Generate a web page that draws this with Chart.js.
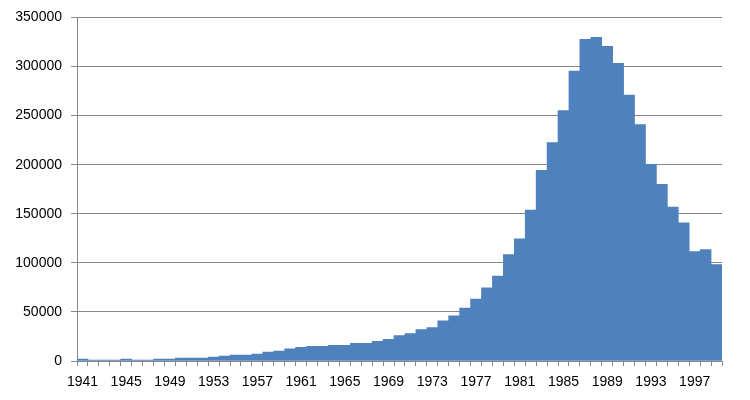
<!DOCTYPE html>
<html>
<head>
<meta charset="utf-8">
<script src="https://cdn.jsdelivr.net/npm/chart.js@4/dist/chart.umd.min.js"></script>
<style>
html,body{margin:0;padding:0;background:#fff;}
#wrap{width:750px;height:400px;}
</style>
</head>
<body>
<div id="wrap"><canvas id="c" width="750" height="400"></canvas></div>
<script>
const years = [];
for (let y = 1941; y <= 1999; y++) years.push(String(y));

const values = [
  2000, 1000, 1000, 1000, 2000, 1000, 1000, 2000, 2000, 3000,
  3000, 3000, 4000, 5000, 6000, 6000, 7000, 9000, 10000, 12500,
  14000, 15000, 15000, 16000, 16000, 18000, 18000, 20000, 22000, 26000,
  28000, 32000, 34000, 41000, 46000, 54000, 63000, 74500, 86600, 108500,
  124500, 153800, 194200, 222500, 255000, 295200, 327600, 329600, 320500, 303300,
  271000, 240700, 200300, 180000, 156800, 140700, 111400, 113400, 98300
];

const yTicks = [0, 50000, 100000, 150000, 200000, 250000, 300000, 350000];

const gridColor = '#868686';
const textColor = '#000000';
const font = {family: '"Liberation Sans", Arial, sans-serif', size: 14};

new Chart(document.getElementById('c'), {
  type: 'bar',
  data: {
    labels: years,
    datasets: [{
      data: values,
      backgroundColor: '#4F81BD',
      borderWidth: 0,
      barPercentage: 1.0,
      categoryPercentage: 1.0
    }]
  },
  options: {
    responsive: false,
    animation: false,
    devicePixelRatio: 1,
    layout: {padding: {top: 15, right: 28, bottom: 0, left: 0}},
    plugins: {legend: {display: false}, tooltip: {enabled: false}},
    scales: {
      x: {
        offset: true,
        grid: {offset: true, drawOnChartArea: false, drawTicks: true, tickLength: 5, color: gridColor, lineWidth: 1},
        border: {display: true, color: gridColor, width: 1},
        ticks: {
          autoSkip: false, maxRotation: 0, minRotation: 0, padding: 8,
          color: textColor, font: font,
          callback: function(v, i) { return (i % 4 === 0) ? years[i] : ''; }
        },
        afterFit: function(s) { s.height = 39; }
      },
      y: {
        min: 0, max: 350000,
        afterBuildTicks: function(s) { s.ticks = yTicks.map(v => ({value: v})); },
        grid: {drawTicks: true, tickLength: 6, color: gridColor, lineWidth: 1},
        border: {display: true, color: gridColor, width: 1},
        ticks: {
          padding: 9, color: textColor, font: font,
          callback: function(v) { return String(v); }
        },
        afterFit: function(s) { s.width = 77; }
      }
    }
  }
});
</script>
</body>
</html>
